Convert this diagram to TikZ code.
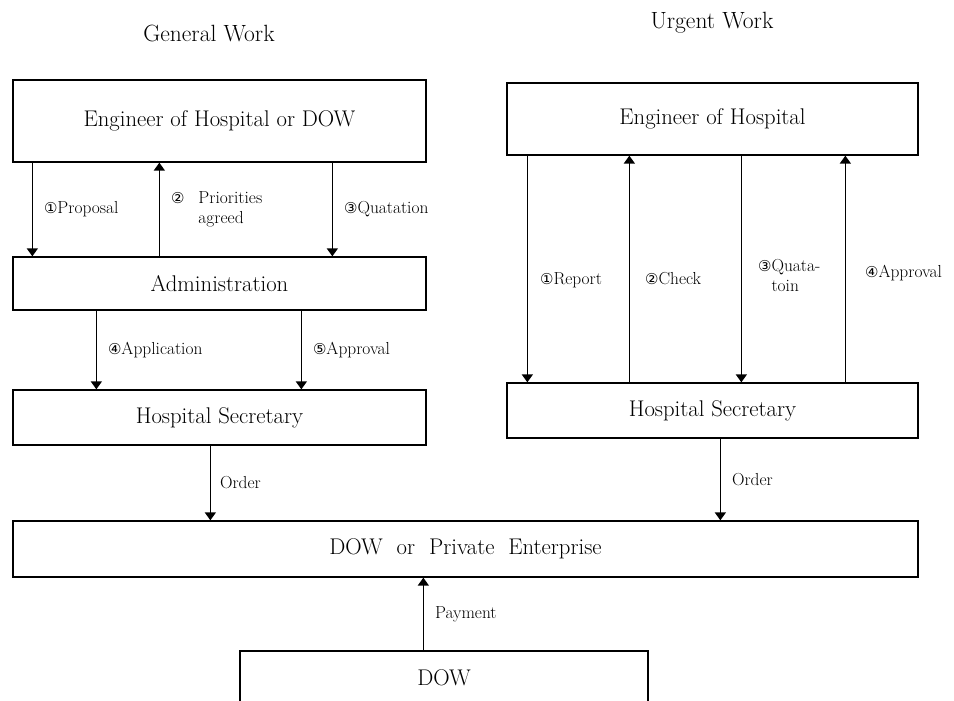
\documentclass[tikz,border=0pt]{standalone}
\usepackage{fontspec}
\newfontfamily\circfont{DejaVu Sans}
\usetikzlibrary{arrows.meta}
\newcommand{\circnum}[1]{{\circfont\fontsize{15}{15}\selectfont #1}}

\begin{document}
\begin{tikzpicture}[x=1pt, y=-1pt,
    box/.style={draw, line width=1.3pt, inner sep=0pt, font=\fontsize{22.7}{26}\selectfont},
    flow/.style={-{Triangle[width=11pt,length=8pt]}, line width=1.4pt},
    lbl/.style={font=\fontsize{17.4}{20}\selectfont, align=left, inner sep=0pt},
    ttl/.style={font=\fontsize{23.5}{26}\selectfont}]
    % tikz code goes here
    \useasboundingbox (0,0) rectangle (954,701);
    \clip (0,0) rectangle (954,701);
    \node[ttl] (g) at (209,33) {General Work};
    \node[ttl] (u) at (712,23) {Urgent Work};
    \node[box, minimum width=413pt, minimum height=82pt] (1) at (219.5,121) {Engineer of Hospital or DOW};
    \node[box, minimum width=413pt, minimum height=53pt] (2) at (219.5,283.5) {Administration};
    \node[box, minimum width=413pt, minimum height=55pt] (3) at (219.5,417.5) {Hospital Secretary};
    \node[box, minimum width=411pt, minimum height=72pt] (4) at (712.5,119) {Engineer of Hospital};
    \node[box, minimum width=411pt, minimum height=55pt] (5) at (712.5,410.5) {Hospital Secretary};
    \node[box, minimum width=905pt, minimum height=56pt] (6) at (465.5,549) {DOW\hspace{7pt} or\hspace{7pt} Private\hspace{7pt} Enterprise};
    \node[box, minimum width=408pt, minimum height=54pt] (7) at (444,678) {DOW};

    \draw[flow] ([xshift=20pt]1.south west) -- node[lbl, right=11pt] {\circnum{①}Proposal} ([xshift=20pt]2.north west);
    \draw[flow] ([xshift=147pt]2.north west) -- node[lbl, right=11pt] {\circnum{②}\hspace{14pt}Priorities\\\hphantom{\circnum{②}\hspace{14pt}}agreed} ([xshift=147pt]1.south west);
    \draw[flow] ([xshift=320pt]1.south west) -- node[lbl, right=11pt] {\circnum{③}Quatation} ([xshift=320pt]2.north west);
    \draw[flow] ([xshift=84pt]2.south west) -- node[lbl, right=11pt] {\circnum{④}Application} ([xshift=84pt]3.north west);
    \draw[flow] ([xshift=289pt]2.south west) -- node[lbl, right=11pt] {\circnum{⑤}Approval} ([xshift=289pt]3.north west);
    \draw[flow] ([xshift=198pt]3.south west) -- node[lbl, right=9pt] {Order} ([xshift=198pt]6.north west);

    \draw[flow] ([xshift=21pt]4.south west) -- node[lbl, right=12pt, pos=0.55] {\circnum{①}Report} ([xshift=21pt]5.north west);
    \draw[flow] ([xshift=123pt]5.north west) -- node[lbl, right=15pt, pos=0.46] {\circnum{②}Check} ([xshift=123pt]4.south west);
    \draw[flow] ([xshift=235pt]4.south west) -- node[lbl, right=16pt, pos=0.53] {\circnum{③}Quata-\\\hphantom{\circnum{③}}toin} ([xshift=235pt]5.north west);
    \draw[flow] ([xshift=339pt]5.north west) -- node[lbl, right=19pt, pos=0.48] {\circnum{④}Approval} ([xshift=339pt]4.south west);
    \draw[flow] ([xshift=214pt]5.south west) -- node[lbl, right=11pt] {Order} ([xshift=708pt]6.north west);

    \draw[flow] ([xshift=184pt]7.north west) -- node[lbl, right=11pt] {Payment} ([xshift=411pt]6.south west);
\end{tikzpicture}
\end{document}
